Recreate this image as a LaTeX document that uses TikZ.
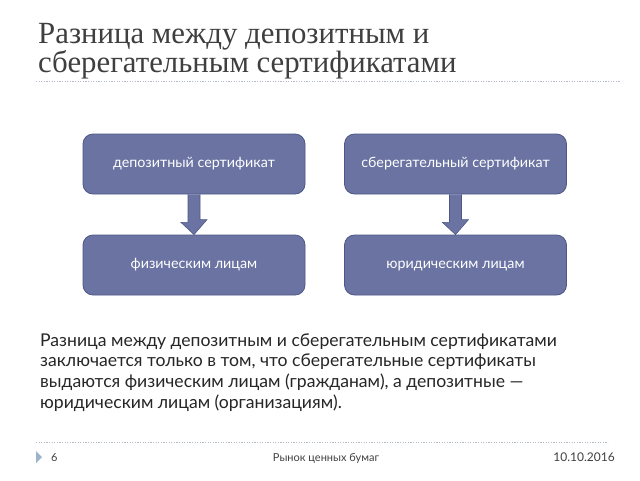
\documentclass[tikz,border=0pt]{standalone}
\usepackage{fontspec}
\setmainfont{Lato}
\newfontfamily\titlefont{Liberation Serif}
\definecolor{boxfill}{HTML}{6A73A2}
\definecolor{boxedge}{HTML}{4E5785}
\definecolor{titlegray}{HTML}{3F3F3F}
\definecolor{dotgray}{HTML}{B4BCC8}
\definecolor{footblue}{HTML}{9BB4CC}
\tikzset{
  card/.style={draw=boxedge, line width=0.8pt, fill=boxfill, rounded corners=10pt,
    minimum width=222pt, minimum height=60pt, text=white,
    font=\fontsize{14.3}{17}\selectfont, inner sep=0pt, text height=10pt, text depth=3pt},
  arrowshape/.style={draw=boxedge, line width=0.6pt, fill=boxfill, line join=miter},
  dotline/.style={dotgray, line width=0.8pt, dash pattern=on 1.2pt off 1.4pt},
  foottext/.style={font=\fontsize{11}{13}\selectfont, text=black!75, inner sep=0pt},
  titletext/.style={anchor=base west, inner sep=0pt, text=titlegray, font=\titlefont\fontsize{30.8}{34}\selectfont}
}
\begin{document}
\begin{tikzpicture}[x=1pt,y=-1pt]
\useasboundingbox[fill=white] (0,0) rectangle (640,480);
% title
\node[titletext] (t1) at (38,43) {Разница между депозитным и};
\node[titletext] (t2) at (38,72) {сберегательным сертификатами};
\coordinate (tl1) at (36,81);
\coordinate (tl2) at (620,81);
\draw[dotline] (tl1) -- (tl2);
% boxes
\node[card] (a) at (194,164) {депозитный сертификат};
\node[card] (b) at (455.5,164) {сберегательный сертификат};
\node[card] (c) at (194,265) {физическим лицам};
\node[card] (d) at (455.5,265) {юридическим лицам};
% arrows
\foreach \src/\dst in {a/c, b/d}{
  \draw[arrowshape] ([xshift=-6pt]\src.south) -- ++(0,28) -- ++(-7,0)
    -- (\dst.north) -- ++(13,-15) -- ++(-7,0) -- ([xshift=6pt]\src.south);
}
% body
\node[anchor=base west, inner sep=0pt, align=left, text=black!85, font=\fontsize{17.6}{20.7}\selectfont] (body) at (40,408.1)
{Разница между депозитным и сберегательным сертификатами\\
заключается только в том, что сберегательные сертификаты\\
выдаются физическим лицам (гражданам), а депозитные —\\
юридическим лицам (организациям).};
% footer
\coordinate (fl1) at (36,442);
\coordinate (fl2) at (608,442);
\draw[dotline] (fl1) -- (fl2);
\fill[footblue] (36,451) -- (42,457) -- (36,463) -- cycle;
\node[foottext, anchor=base west] (pg) at (51,461) {6};
\node[foottext, anchor=base] (ft) at (326,461) {Рынок ценных бумаг};
\node[foottext, anchor=base east, font=\fontsize{12}{14}\selectfont] (dt) at (615,461) {10.10.2016};
\end{tikzpicture}
\end{document}
